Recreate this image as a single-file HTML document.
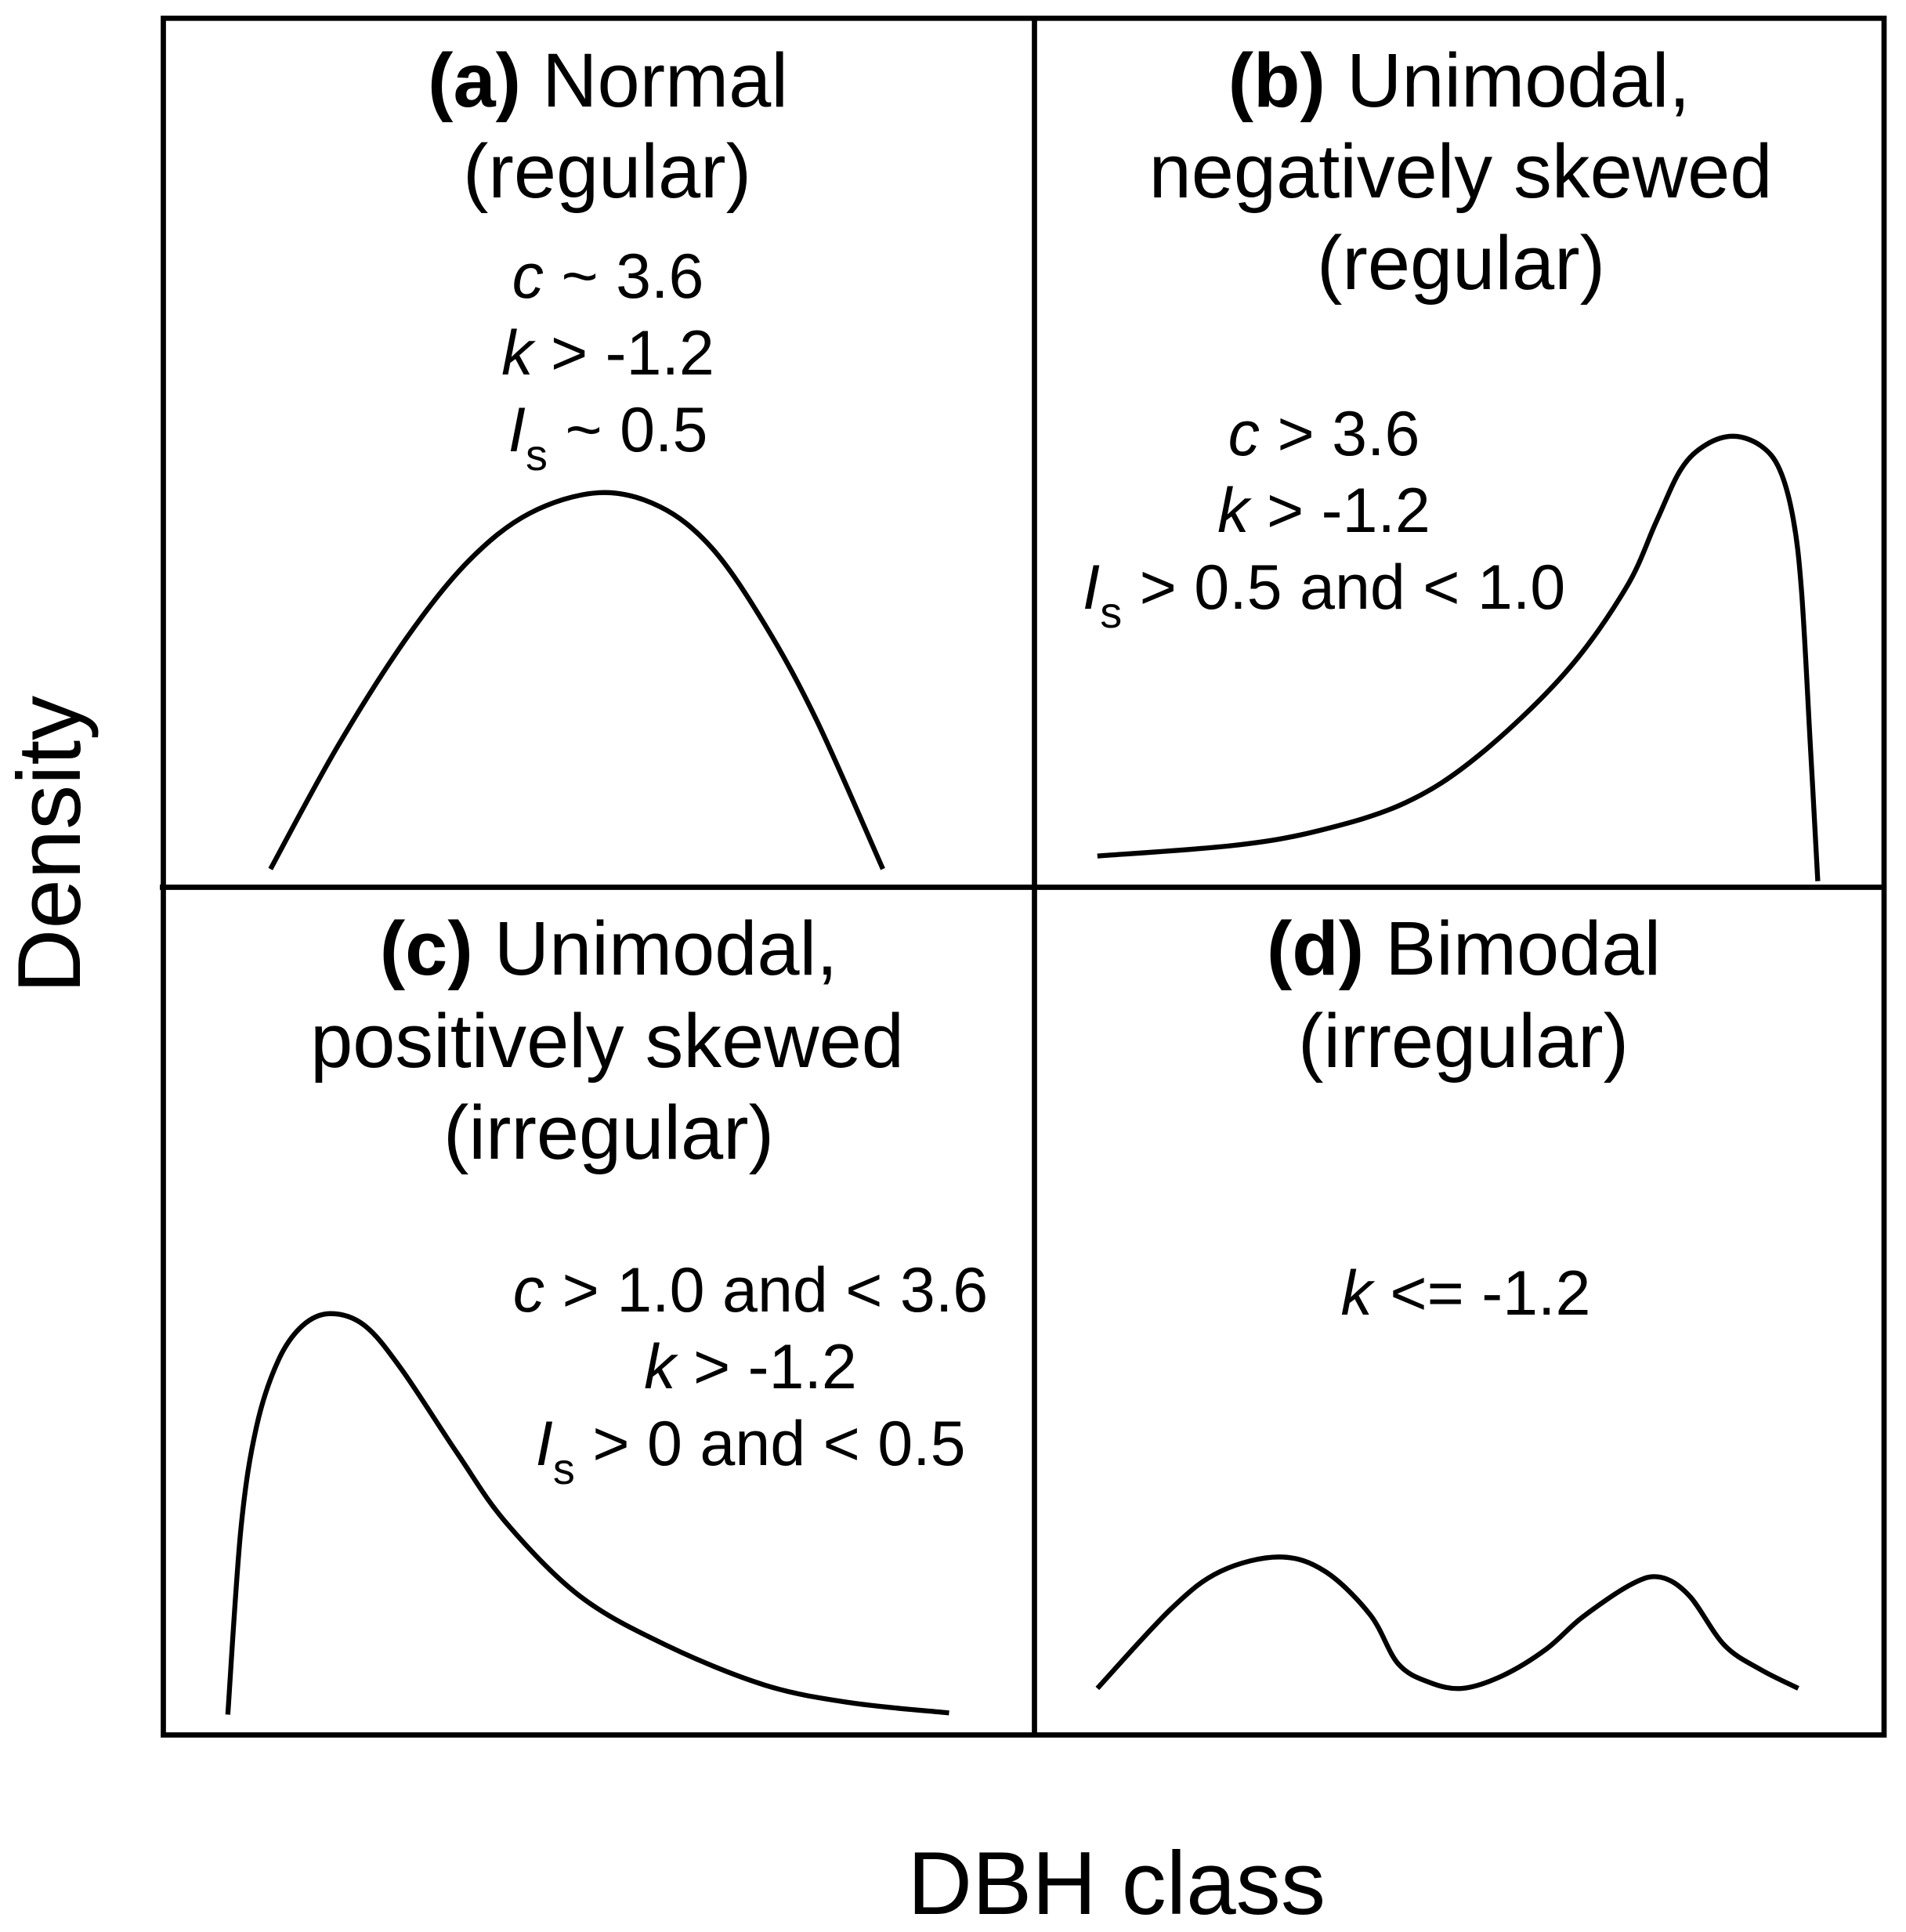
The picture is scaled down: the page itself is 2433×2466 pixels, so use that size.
<!DOCTYPE html>
<html lang="en">
<head>
<meta charset="utf-8">
<title>DBH class density shapes</title>
<style>
html,body{margin:0;padding:0;background:#fff;}
svg{display:block;}
text{font-family:"Liberation Sans",Arial,sans-serif;fill:#000;}
.t{font-size:97.4px;text-anchor:middle;}
.s{font-size:80.8px;text-anchor:middle;}
.i{font-style:italic;}
.b{font-weight:bold;}
.sub{font-size:56px;}
.curve{fill:none;stroke:#000;stroke-width:6.3;stroke-linejoin:round;stroke-linecap:butt;}
.frame{stroke:#000;stroke-width:6.7;fill:none;}
</style>
</head>
<body>
<svg id="chart" xmlns="http://www.w3.org/2000/svg" width="2433" height="2466" viewBox="0 0 2433 2466">
  <rect x="0" y="0" width="2433" height="2466" fill="#fff"/>
  <rect class="frame" x="208.5" y="23.3" width="2196.5" height="2191.2"/>
  <line class="frame" x1="1320.5" y1="23.3" x2="1320.5" y2="2214.5"/>
  <line class="frame" x1="204" y1="1132.5" x2="2405" y2="1132.5"/>

  <g id="curves"></g>

  <g>
    <text class="t" x="776" y="136"><tspan class="b">(a)</tspan> Normal</text>
    <text class="t" x="775" y="252">(regular)</text>
    <text class="s" x="776" y="380"><tspan class="i">c</tspan> ~ 3.6</text>
    <text class="s" x="776" y="478"><tspan class="i">k</tspan> &gt; -1.2</text>
    <text class="s" x="776" y="576"><tspan class="i">I</tspan><tspan class="sub" dy="24">s</tspan><tspan dy="-24"> ~ 0.5</tspan></text>
  </g>

  <g>
    <text class="t" x="1862.5" y="136"><tspan class="b">(b)</tspan> Unimodal,</text>
    <text class="t" x="1864.5" y="252">negatively skewed</text>
    <text class="t" x="1865" y="369">(regular)</text>
    <text class="s" x="1690" y="581"><tspan class="i">c</tspan> &gt; 3.6</text>
    <text class="s" x="1690" y="679"><tspan class="i">k</tspan> &gt; -1.2</text>
    <text class="s" x="1690" y="777"><tspan class="i">I</tspan><tspan class="sub" dy="24">s</tspan><tspan dy="-24"> &gt; 0.5 and &lt; 1.0</tspan></text>
  </g>

  <g>
    <text class="t" x="777" y="1244"><tspan class="b">(c)</tspan> Unimodal,</text>
    <text class="t" x="775" y="1362">positively skewed</text>
    <text class="t" x="777" y="1479">(irregular)</text>
    <text class="s" x="958" y="1674"><tspan class="i">c</tspan> &gt; 1.0 and &lt; 3.6</text>
    <text class="s" x="958" y="1772"><tspan class="i">k</tspan> &gt; -1.2</text>
    <text class="s" x="958" y="1870"><tspan class="i">I</tspan><tspan class="sub" dy="24">s</tspan><tspan dy="-24"> &gt; 0 and &lt; 0.5</tspan></text>
  </g>

  <g>
    <text class="t" x="1868.5" y="1244"><tspan class="b">(d)</tspan> Bimodal</text>
    <text class="t" x="1868" y="1362">(irregular)</text>
    <text class="s" x="1871" y="1678"><tspan class="i">k</tspan> &lt;= -1.2</text>
  </g>

  <text font-size="114" transform="translate(102 1268) rotate(-90)" x="0" y="0">Density</text>
  <text font-size="114.3" x="1158.5" y="2443">DBH class</text>
</svg>
<script>
// Panel (a): normal
const dbhA = [12.3,20.0,28.0,35.0,42.0,50.0,57.0,63.0,69.0,75.0,82.6];
const densityA = [2.1,16.2,28.8,37.5,43.0,45.4,43.8,39.0,30.3,19.2,2.1];
// Panel (b): unimodal, negatively skewed
const dbhB = [7.4,23.3,33.4,43.6,52.2,62.4,69.6,73.2,76.1,79.0,82.3,85.5,87.7,89.3,90.3,91.3,92.2];
const densityB = [3.6,4.8,6.5,9.7,15.1,24.6,34.4,42.1,48.1,50.9,51.9,50.8,48.1,42.4,33.9,16.8,0.7];
// Panel (c): unimodal, positively skewed
const dbhC = [7.4,8.9,10.7,13.2,16.0,19.2,23.1,27.3,33.7,39.3,47.8,57.7,69.0,78.9,90.2];
const densityC = [2.4,24.3,36.4,44.2,48.3,49.7,48.3,43.2,33.3,25.1,16.4,10.6,5.9,3.8,2.6];
// Panel (d): bimodal
const dbhD = [7.4,16.1,21.9,28.8,34.2,39.5,42.8,46.5,50.4,55.1,60.2,64.5,70.3,73.7,77.1,81.2,85.5,89.9];
const densityD = [5.5,14.9,19.3,21.0,19.3,14.2,8.4,6.2,5.5,7.0,10.1,13.9,17.8,18.6,16.4,10.6,7.7,5.5];

function xAxis(left, right) {
  return function (v) { return left + (right - left) * v / 100; };
}
function yAxis(top, bottom) {
  return function (v) { return bottom - (bottom - top) * v / 100; };
}
function smoothPath(pts) {
  let d = 'M' + pts[0][0].toFixed(1) + ' ' + pts[0][1].toFixed(1);
  for (let i = 0; i < pts.length - 1; i++) {
    const p0 = pts[Math.max(i - 1, 0)];
    const p1 = pts[i];
    const p2 = pts[i + 1];
    const p3 = pts[Math.min(i + 2, pts.length - 1)];
    const c1x = p1[0] + (p2[0] - p0[0]) / 6;
    const c1y = p1[1] + (p2[1] - p0[1]) / 6;
    const c2x = p2[0] - (p3[0] - p1[0]) / 6;
    const c2y = p2[1] - (p3[1] - p1[1]) / 6;
    d += 'C' + c1x.toFixed(1) + ' ' + c1y.toFixed(1) + ' ' + c2x.toFixed(1) + ' ' + c2y.toFixed(1) + ' ' + p2[0].toFixed(1) + ' ' + p2[1].toFixed(1);
  }
  return d;
}
function drawCurve(name, xs, ys, sx, sy) {
  const pts = xs.map(function (v, i) { return [sx(v), sy(ys[i])]; });
  const el = document.createElementNS('http://www.w3.org/2000/svg', 'path');
  el.setAttribute('class', 'curve');
  el.setAttribute('d', smoothPath(pts));
  
  
  document.getElementById('curves').appendChild(el);
}
drawCurve('curve-a-normal', dbhA, densityA, xAxis(208.5, 1320.5), yAxis(23.3, 1132.5));
drawCurve('curve-b-negatively-skewed', dbhB, densityB, xAxis(1320.5, 2405), yAxis(23.3, 1132.5));
drawCurve('curve-c-positively-skewed', dbhC, densityC, xAxis(208.5, 1320.5), yAxis(1132.5, 2214.5));
drawCurve('curve-d-bimodal', dbhD, densityD, xAxis(1320.5, 2405), yAxis(1132.5, 2214.5));
</script>
</body>
</html>
